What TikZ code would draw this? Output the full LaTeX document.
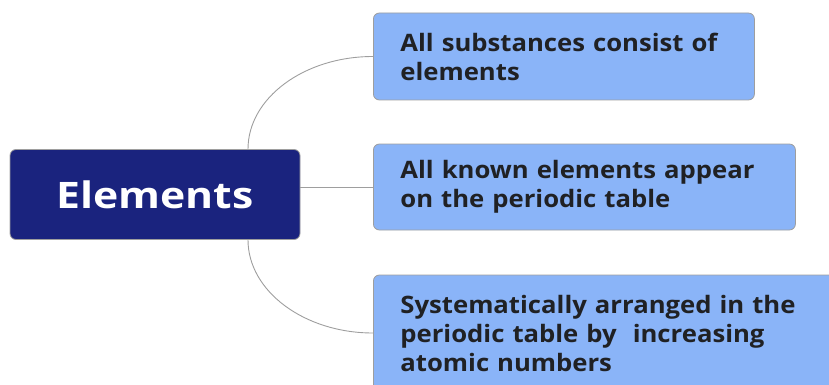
\documentclass[tikz,border=0pt]{standalone}
\usepackage{fontspec}
\setmainfont{Open Sans}
\newfontfamily\rootfont[FakeStretch=1.17]{Open Sans}
\newfontfamily\leaffont[FakeStretch=1.07]{Open Sans}
\definecolor{navy}{HTML}{1A237E}
\definecolor{leaf}{HTML}{8AB4F8}
\definecolor{edge}{HTML}{9E9E9E}
\definecolor{ink}{HTML}{202124}
\begin{document}
\begin{tikzpicture}[x=1pt,y=-1pt,
  rootbox/.style={draw=edge, line width=0.8pt, fill=navy, rounded corners=6pt,
    minimum width=290pt, minimum height=90pt, inner sep=0pt,
    text=white, font=\rootfont\fontsize{36.5}{40}\selectfont\bfseries},
  leafbox/.style={draw=edge, line width=0.8pt, fill=leaf, rounded corners=6pt,
    inner xsep=27pt, inner ysep=0pt, align=left, text=ink,
    font=\leaffont\fontsize{24}{29}\selectfont\bfseries},
  link/.style={draw=edge, line width=0.9pt}]
\useasboundingbox (0,0) rectangle (829,385);
\clip (0,0) rectangle (829,385);

% central topic
\node[rootbox] (root) at (155,194.5) {Elements};

% branches
\node[leafbox, anchor=west, minimum height=87pt, text width=327pt] (b1) at (373,56.5)
  {All substances consist of\\elements};
\node[leafbox, anchor=west, minimum height=86pt, text width=368pt] (b2) at (373,187)
  {All known elements appear\\on the periodic table};
\node[leafbox, anchor=west, minimum height=116pt, text width=450pt] (b3) at (373,333)
  {Systematically arranged in the\\periodic table by\ \ increasing\\atomic numbers};

% connectors
\draw[link] ([xshift=93pt]root.north) .. controls +(0,-51) and +(-69,0) .. (b1.west);
\draw[link] (b2.west -| root.east) -- (b2.west);
\draw[link] ([xshift=93pt]root.south) .. controls +(0,51) and +(-69,0) .. (b3.west);
\end{tikzpicture}
\end{document}
